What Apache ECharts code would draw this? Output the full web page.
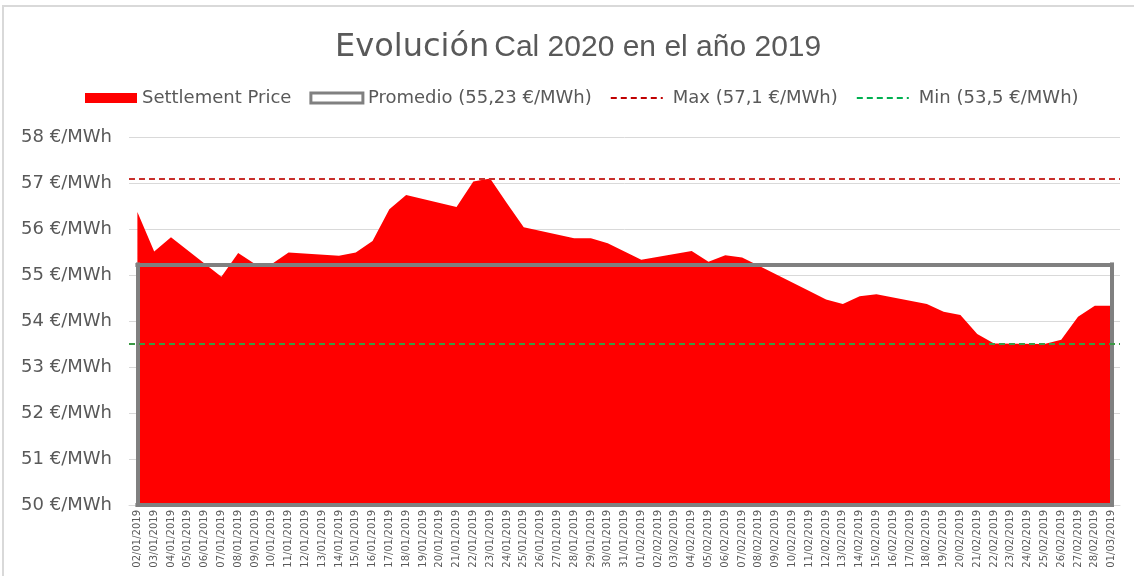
<!DOCTYPE html>
<html lang="es">
<head>
<meta charset="UTF-8">
<title>Evolución Cal 2020</title>
<script src="https://cdn.jsdelivr.net/npm/echarts@6/dist/echarts.min.js"></script>
<style>
  html, body { margin: 0; padding: 0; background: #fff; }
  #frame { position: absolute; left: 2px; top: 5px; width: 1200px; height: 640px; border: 2px solid #d9d9d9; }
  #container { position: absolute; left: 0; top: 0; width: 1134px; height: 576px; }
</style>
</head>
<body>
<div id="frame"></div>
<div id="container"></div>
<script type="text/javascript">
// fechas del eje (todos los días, los fines de semana sin cotización)
var dates = [
  '02/01/2019','03/01/2019','04/01/2019','05/01/2019','06/01/2019','07/01/2019','08/01/2019',
  '09/01/2019','10/01/2019','11/01/2019','12/01/2019','13/01/2019','14/01/2019','15/01/2019',
  '16/01/2019','17/01/2019','18/01/2019','19/01/2019','20/01/2019','21/01/2019','22/01/2019',
  '23/01/2019','24/01/2019','25/01/2019','26/01/2019','27/01/2019','28/01/2019','29/01/2019',
  '30/01/2019','31/01/2019','01/02/2019','02/02/2019','03/02/2019','04/02/2019','05/02/2019',
  '06/02/2019','07/02/2019','08/02/2019','09/02/2019','10/02/2019','11/02/2019','12/02/2019',
  '13/02/2019','14/02/2019','15/02/2019','16/02/2019','17/02/2019','18/02/2019','19/02/2019',
  '20/02/2019','21/02/2019','22/02/2019','23/02/2019','24/02/2019','25/02/2019','26/02/2019',
  '27/02/2019','28/02/2019','01/03/2019'
];
// precio de liquidación €/MWh (null = fin de semana)
var settlement = [
  56.37, 55.51, 55.82, null, null, 54.96, 55.48,
  55.24, 55.24, 55.49, null, null, 55.42, 55.49,
  55.74, 56.43, 56.74, null, null, 56.48, 57.03,
  57.10, 56.56, 56.04, null, null, 55.80, 55.80,
  55.69, 55.51, 55.33, null, null, 55.52, 55.29,
  55.43, 55.38, 55.20, null, null, 54.65, 54.47,
  54.37, 54.54, 54.58, null, null, 54.37, 54.20,
  54.13, 53.72, 53.51, null, null, 53.50, 53.59,
  54.09, 54.33, 54.33
];
var promedio = 55.23;
var maxPrice = 57.1;
var minPrice = 53.5;
var yTicks = [50, 51, 52, 53, 54, 55, 56, 57, 58];

var fontTxt = 'DejaVu Sans';
var grey = '#595959';

var dom = document.getElementById('container');
var myChart = echarts.init(dom, null, {renderer: 'canvas'});

var first = dates[0], last = dates[dates.length - 1], bottom = yTicks[0];

var option = {
    animation: false,
    backgroundColor: 'transparent',
    title: {
        text: '{a|Evolución} {b|Cal 2020 en el año 2019}',
        left: 330,
        top: 27,
        textStyle: {
            fontWeight: 'normal',
            rich: {
                a: {fontFamily: fontTxt, fontSize: 32, fontWeight: 'normal', color: grey},
                b: {fontFamily: 'Liberation Sans', fontSize: 30, fontWeight: 'normal', color: grey}
            }
        }
    },
    legend: {
        top: 89,
        left: 85,
        padding: 0,
        itemGap: 18,
        itemWidth: 52,
        itemHeight: 10,
        textStyle: {fontFamily: fontTxt, fontSize: 18, color: grey},
        data: [
            {name: 'Settlement Price', icon: 'rect', itemStyle: {color: '#ff0000'}},
            {name: 'Promedio (55,23 €/MWh)', icon: 'rect',
             itemStyle: {color: '#ffffff', borderColor: '#808080', borderWidth: 3}},
            {name: 'Max (57,1 €/MWh)', itemStyle: {opacity: 0},
             textStyle: {padding: [0, 0, 0, 5]}},
            {name: 'Min (53,5 €/MWh)', itemStyle: {opacity: 0},
             textStyle: {padding: [0, 0, 0, 5]}}
        ]
    },
    grid: {left: 129, right: 14, top: 137, bottom: 71},
    xAxis: {
        type: 'category',
        data: dates,
        boundaryGap: true,
        axisLine: {lineStyle: {color: '#d9d9d9'}},
        axisTick: {show: false},
        axisLabel: {
            interval: 0,
            rotate: 90,
            fontFamily: fontTxt,
            fontSize: 10,
            color: grey,
            margin: 5
        }
    },
    yAxis: {
        type: 'value',
        min: yTicks[0],
        max: yTicks[yTicks.length - 1],
        interval: 1,
        axisLine: {show: false},
        axisTick: {show: false},
        splitLine: {lineStyle: {color: '#d9d9d9', width: 1}},
        axisLabel: {
            fontFamily: fontTxt,
            fontSize: 18,
            color: grey,
            margin: 17,
            formatter: function (v) { return v + ' €/MWh'; }
        }
    },
    series: [
        {
            name: 'Settlement Price',
            type: 'line',
            data: settlement,
            connectNulls: true,
            symbol: 'none',
            lineStyle: {width: 0, color: '#ff0000'},
            itemStyle: {color: '#ff0000'},
            areaStyle: {color: '#ff0000', opacity: 1},
            z: 2
        },
        {
            // el promedio se ve como un rectángulo gris sobre el área
            name: 'Promedio (55,23 €/MWh)',
            type: 'line',
            data: [],
            symbol: 'none',
            itemStyle: {color: '#808080'},
            lineStyle: {color: '#808080', width: 4},
            markLine: {
                silent: true,
                symbol: 'none',
                label: {show: false},
                lineStyle: {color: '#808080', width: 4, type: 'solid', cap: 'square'},
                data: [
                    [{coord: [first, promedio]}, {coord: [last, promedio]}],
                    [{coord: [first, bottom]}, {coord: [first, promedio]}],
                    [{coord: [last, bottom]}, {coord: [last, promedio]}],
                    [{coord: [first, bottom]}, {coord: [last, bottom]}]
                ]
            },
            z: 4
        },
        {
            name: 'Max (57,1 €/MWh)',
            type: 'line',
            data: [],
            symbol: 'none',
            itemStyle: {color: '#c00000'},
            lineStyle: {color: '#c00000', width: 2, type: [6, 4]},
            markLine: {
                silent: true,
                symbol: 'none',
                label: {show: false},
                lineStyle: {color: '#c9302c', width: 2, type: [6, 4]},
                data: [{yAxis: maxPrice}]
            },
            z: 3
        },
        {
            name: 'Min (53,5 €/MWh)',
            type: 'line',
            data: [],
            symbol: 'none',
            itemStyle: {color: '#00b050'},
            lineStyle: {color: '#00b050', width: 2, type: [6, 4]},
            markLine: {
                silent: true,
                symbol: 'none',
                label: {show: false},
                lineStyle: {color: '#3a9a45', width: 2, type: [6, 4]},
                data: [{yAxis: minPrice}]
            },
            z: 3
        }
    ]
};

if (option && typeof option === 'object') {
    myChart.setOption(option, true);
}
</script>
</body>
</html>
